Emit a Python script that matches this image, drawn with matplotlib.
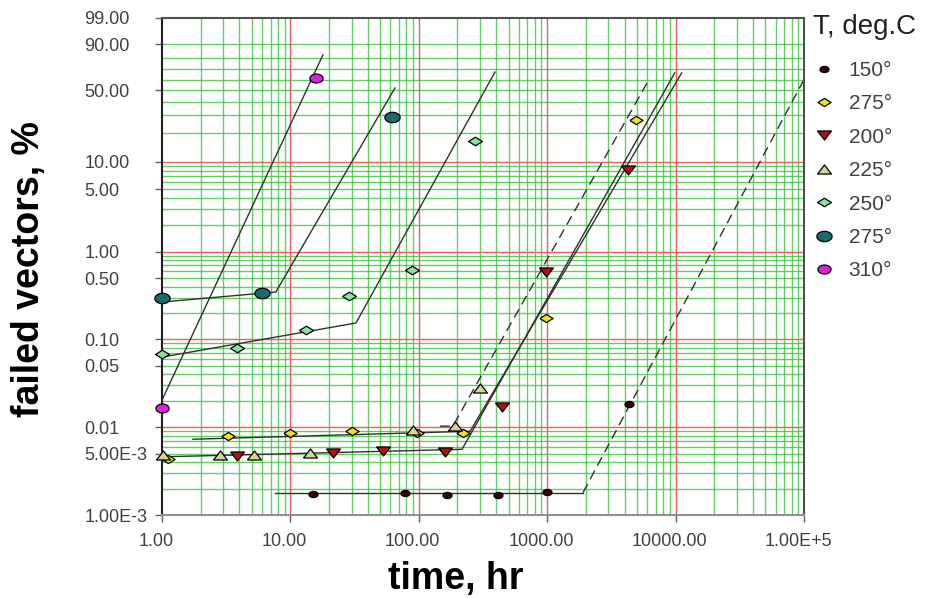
import numpy as np
import matplotlib.pyplot as plt
from matplotlib.transforms import ScaledTranslation

plt.rcParams['font.family'] = ['Liberation Sans', 'DejaVu Sans']

# measured points: time (hr), failed vectors (%)
t150 = [15, 78, 166, 414, 1000, 4320]
f150 = [0.00173, 0.00178, 0.00169, 0.00169, 0.00183, 0.0184]
t275y = [1.11, 3.26, 9.94, 30.1, 96.9, 221, 983, 4960]
f275y = [0.0043, 0.0079, 0.0086, 0.0090, 0.0086, 0.0086, 0.176, 27.2]
t200 = [3.84, 21.5, 52.7, 160, 444, 983, 4240]
f200 = [0.0047, 0.0051, 0.0053, 0.0052, 0.0170, 0.585, 8.2]
t225 = [1.02, 2.83, 5.2, 14.3, 90.3, 191, 300]
f225 = [0.0048, 0.0048, 0.0048, 0.0051, 0.0093, 0.0103, 0.028]
t250 = [1.0, 3.84, 13.2, 28.5, 88.7, 273]
f250 = [0.068, 0.080, 0.128, 0.313, 0.619, 16.7]
t275t = [1.0, 6.0, 61.9]
f275t = [0.297, 0.338, 29.0]
t310 = [1.0, 15.8]
f310 = [0.0166, 61.5]

# fitted (bilinear) lines
fit150_t = [7.6, 1900]
fit150_f = [0.0018, 0.0018]
fit150d_t = [1900, 100000]
fit150d_f = [0.0018, 60]
fit275y_t = [1.74, 251, 11150]
fit275y_f = [0.0073, 0.0090, 66.3]
fit200_t = [1.0, 217, 9840]
fit200_f = [0.0046, 0.0056, 66.3]
fit225_t = [146, 184, 6050]
fit225_f = [0.0103, 0.0103, 57.6]
fit250_t = [1.0, 32.4, 392]
fit250_f = [0.063, 0.154, 67.2]
fit275t_t = [1.0, 7.7, 65.2]
fit275t_f = [0.267, 0.347, 52.0]
fit310_t = [1.0, 17.9]
fit310_f = [0.0204, 82.5]

ytick_vals = [0.001, 0.005, 0.01, 0.05, 0.1, 0.5, 1, 5, 10, 50, 90, 99]
ytick_text = ['1.00E-3', '5.00E-3', '0.01', '0.05', '0.10', '0.50', '1.00',
              '5.00', '10.00', '50.00', '90.00', '99.00']
xtick_vals = [1, 10, 100, 1000, 10000, 100000]
xtick_text = ['1.00', '10.00', '100.00', '1000.00', '10000.00', '1.00E+5']


def weib(p):
    p = np.clip(np.asarray(p, dtype=float), 1e-9, 99.9999)
    return np.log(-np.log(1 - p / 100.0))


def weib_inv(w):
    return 100.0 * (1 - np.exp(-np.exp(np.asarray(w, dtype=float))))


# marker shapes
a = np.linspace(0, 2 * np.pi, 30)
ellipse = list(zip(np.cos(a), 0.68 * np.sin(a)))
flat_d = [(-1, 0), (0, 0.62), (1, 0), (0, -0.62), (-1, 0)]
tri_up = [(-1, -0.65), (0, 0.65), (1, -0.65), (-1, -0.65)]
tri_dn = [(-1, 0.65), (0, -0.65), (1, 0.65), (-1, 0.65)]

W, H = 925, 598
fig = plt.figure(figsize=(W / 100, H / 100), dpi=100)
ax = fig.add_axes([162 / W, 1 - 515 / H, 642 / W, 497 / H])
ax.set_xscale('log')
ax.set_yscale('function', functions=(weib, weib_inv))
ax.set_xlim(1, 100000)
ax.set_ylim(0.001, 99)

# grid
green = '#3cc43c'
red = '#e86060'
for d in [1, 10, 100, 1000, 10000]:
    for m in range(2, 10):
        ax.axvline(m * d, color=green, lw=1.0, alpha=0.8, zorder=0)
for d in [0.001, 0.01, 0.1, 1]:
    for m in range(2, 10):
        ax.axhline(m * d, color=green, lw=1.0, alpha=0.8, zorder=0)
for v in [20, 30, 40, 50, 60, 70, 80, 90]:
    ax.axhline(v, color=green, lw=1.0, alpha=0.8, zorder=0)
for v in [10, 100, 1000, 10000]:
    ax.axvline(v, color=red, lw=1.0, zorder=0.5)
for v in [0.01, 0.1, 1, 10]:
    ax.axhline(v, color=red, lw=1.0, zorder=0.5)

# fits
lc = '#303030'
ax.plot(fit150_t, fit150_f, color=lc, lw=1)
ax.plot(fit150d_t, fit150d_f, color=lc, lw=1, dashes=(7, 4))
ax.plot(fit275y_t, fit275y_f, color=lc, lw=1)
ax.plot(fit200_t, fit200_f, color=lc, lw=1)
ax.plot(fit225_t, fit225_f, color=lc, lw=1, dashes=(7, 4))
ax.plot(fit250_t, fit250_f, color=lc, lw=1)
ax.plot(fit275t_t, fit275t_f, color=lc, lw=1)
ax.plot(fit310_t, fit310_f, color=lc, lw=1)

# data
kw = dict(linestyle='none', markeredgecolor='black', markeredgewidth=0.9,
          clip_on=False, zorder=5)
ax.plot(t150, f150, marker=ellipse, markersize=6.5, color='#3a0008', label='150°', **kw)
ax.plot(t275y, f275y, marker=flat_d, markersize=9.5, color='#f2e21e', label='275°', **kw)
ax.plot(t200, f200, marker=tri_dn, markersize=10, color='#b01010', label='200°', **kw)
ax.plot(t225, f225, marker=tri_up, markersize=10, color='#d8d496', label='225°', **kw)
ax.plot(t250, f250, marker=flat_d, markersize=10, color='#8fe0a0', label='250°', **kw)
ax.plot(t275t, f275t, marker=ellipse, markersize=11, color='#1b6b6e', label='275°', **kw)
ax.plot(t310, f310, marker=ellipse, markersize=9.5, color='#e020e0', label='310°', **kw)

# axes styling
ax.set_yticks(ytick_vals)
ax.set_yticklabels(ytick_text)
ax.set_xticks(xtick_vals)
ax.set_xticklabels(xtick_text)
ax.minorticks_off()
ax.tick_params(axis='both', direction='out', length=5, width=1, color='#606060',
               labelsize=13, labelcolor='#404040')
ax.tick_params(axis='x', pad=8)
ax.tick_params(axis='y', pad=51)
for lab in ax.get_yticklabels():
    lab.set_horizontalalignment('left')
for lab in ax.get_xticklabels():
    lab.set_transform(lab.get_transform() + ScaledTranslation(-6 / 100, 0, fig.dpi_scale_trans))
ax.spines['left'].set_color('#202020')
ax.spines['bottom'].set_color('#909090')
ax.spines['top'].set_color('#505050')
ax.spines['right'].set_color('#505050')
for s in ax.spines.values():
    s.set_linewidth(1.5)

ax.set_xlabel('time, hr', fontsize=27, fontweight='bold')
ax.xaxis.label.set_va('center')
ax.xaxis.set_label_coords((456 - 162) / 642, (515 - 579) / 497)
ax.set_ylabel('failed vectors, %', fontsize=27, fontweight='bold')
ax.yaxis.label.set_va('center')
ax.yaxis.set_label_coords((29 - 162) / 642, (515 - 269) / 497)

fig.text(813 / W, 1 - 27 / H, 'T, deg.C', fontsize=20, va='center', ha='left', color='#202020')
leg = ax.legend(loc='upper left', bbox_to_anchor=(811 / W, 1 - 61 / H),
                bbox_transform=fig.transFigure, frameon=False, fontsize=15,
                handletextpad=0.6, labelspacing=0.69, borderaxespad=0, borderpad=0,
                handlelength=1.2)
for t in leg.get_texts():
    t.set_color('#404040')

fig.savefig('out.png', dpi=100)
